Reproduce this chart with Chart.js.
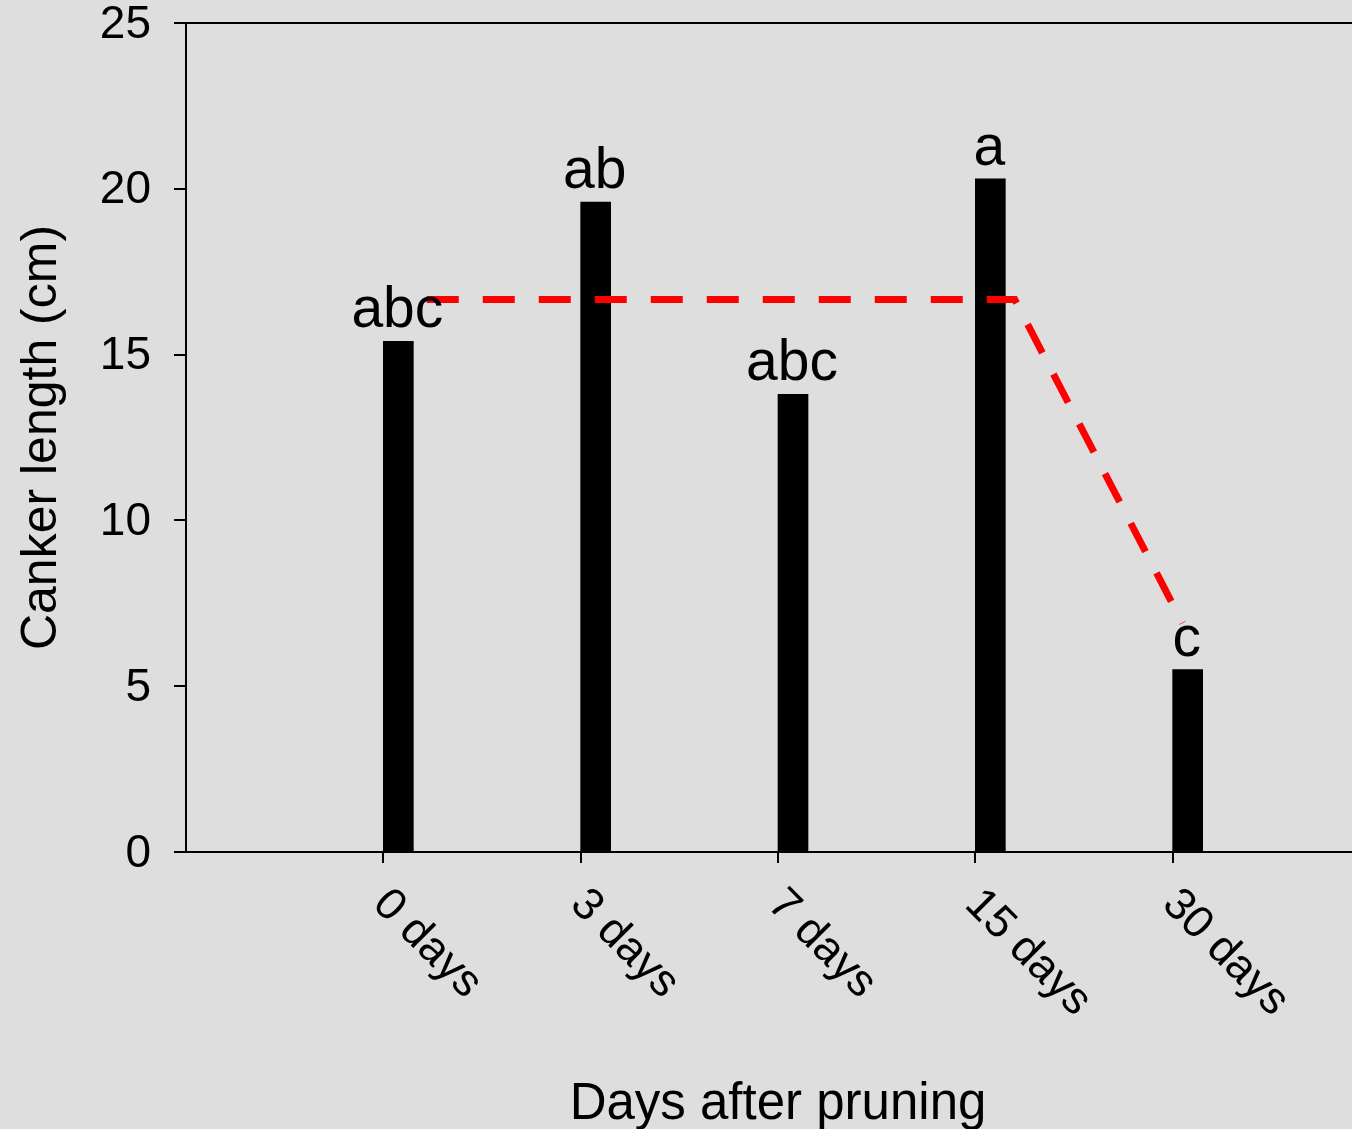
<!DOCTYPE html>
<html>
<head>
<meta charset="utf-8">
<script src="https://cdn.jsdelivr.net/npm/chart.js@4.4.1/dist/chart.umd.min.js"></script>
<style>
  html, body { margin: 0; padding: 0; background: #dedede; overflow: hidden; }
  #wrap { width: 1352px; height: 1129px; overflow: hidden; }
  canvas { display: block; }
</style>
</head>
<body>
<div id="wrap"><canvas id="chart" width="1372" height="1129"></canvas></div>
<script>
const categories = ["0 days", "3 days", "7 days", "15 days", "30 days"];
const cankerLength = [15.4, 19.6, 13.8, 20.3, 5.5];
const letters = ["abc", "ab", "abc", "a", "c"];
// fitted broken-line model (red dashes), in axis units
const trendX = [1.22, 4.2, 5.05];
const trendY = [16.66, 16.66, 6.9];
const yTicks = [0, 5, 10, 15, 20, 25];

const FONT = "'Liberation Sans', Arial, sans-serif";

// draws the top frame line, the letters over the bars and the slanted day labels
const decorations = {
  id: "decorations",
  afterDatasetsDraw(chart) {
    const { ctx, chartArea, scales } = chart;
    ctx.save();
    ctx.strokeStyle = "#000";
    ctx.lineWidth = 2;
    ctx.beginPath();
    ctx.moveTo(chartArea.left, chartArea.top);
    ctx.lineTo(chartArea.right, chartArea.top);
    ctx.stroke();

    ctx.fillStyle = "#000";
    ctx.font = "57px " + FONT;
    ctx.textAlign = "center";
    ctx.textBaseline = "alphabetic";
    const bars = chart.getDatasetMeta(2).data;
    bars.forEach((bar, i) => {
      ctx.fillText(letters[i], bar.x - 1, bar.y - 14);
    });

    ctx.font = "45px " + FONT;
    ctx.textAlign = "left";
    categories.forEach((label, i) => {
      const px = scales.x.getPixelForValue(i + 1);
      ctx.save();
      ctx.translate(px - 12, chartArea.bottom + 54);
      ctx.rotate(Math.PI / 4);
      ctx.fillText(label, 0, 0);
      ctx.restore();
    });
    ctx.restore();
  }
};

const ctx = document.getElementById("chart").getContext("2d");

new Chart(ctx, {
  type: "bar",
  data: {
    datasets: [
      {
        type: "line",
        data: trendX.map((x, i) => ({ x: x, y: trendY[i] })),
        borderColor: "#ff0000",
        borderWidth: 7,
        borderDash: [32, 24],
        pointRadius: 0,
        fill: false,
        tension: 0
      },
      {
        // empty second series of the original grouped plot
        data: categories.map((c, i) => ({ x: i + 1, y: null })),
        backgroundColor: "#000",
        barThickness: 30
      },
      {
        data: categories.map((c, i) => ({ x: i + 1, y: cankerLength[i] })),
        backgroundColor: "#000",
        borderWidth: 0,
        barThickness: 30
      }
    ]
  },
  options: {
    responsive: false,
    devicePixelRatio: 1,
    animation: false,
    layout: { padding: { left: 0, top: 23, right: 2, bottom: 0 } },
    plugins: {
      legend: { display: false },
      tooltip: { enabled: false }
    },
    scales: {
      x: {
        type: "linear",
        min: 0,
        max: 6,
        offset: false,
        afterBuildTicks: (s) => {
          s.ticks = categories.map((c, i) => ({ value: i + 1 }));
        },
        ticks: { display: false },
        grid: {
          offset: false,
          drawOnChartArea: false,
          color: "#000",
          lineWidth: 2,
          tickLength: 11
        },
        border: { color: "#000", width: 2 },
        title: {
          display: true,
          text: "Days after pruning",
          color: "#000",
          font: { family: FONT, size: 51, lineHeight: 0.96 },
          padding: { top: 0, bottom: 0 }
        },
        afterFit: (s) => {
          s.height = 277;
          s.paddingLeft = 0;
          s.paddingRight = 0;
        }
      },
      y: {
        min: 0,
        max: 25,
        afterBuildTicks: (s) => {
          s.ticks = yTicks.map((v) => ({ value: v }));
        },
        ticks: {
          color: "#000",
          font: { family: FONT, size: 46 },
          padding: 23,
          labelOffset: 2
        },
        grid: {
          drawOnChartArea: false,
          color: "#000",
          lineWidth: 2,
          tickLength: 12
        },
        border: { color: "#000", width: 2 },
        title: {
          display: true,
          text: "Canker length (cm)",
          color: "#000",
          font: { family: FONT, size: 50, lineHeight: 1 },
          padding: { top: 17, bottom: 0 }
        },
        afterFit: (s) => {
          s.width = 186;
          s.paddingTop = 0;
          s.paddingBottom = 0;
        }
      }
    }
  },
  plugins: [decorations]
});
</script>
</body>
</html>
